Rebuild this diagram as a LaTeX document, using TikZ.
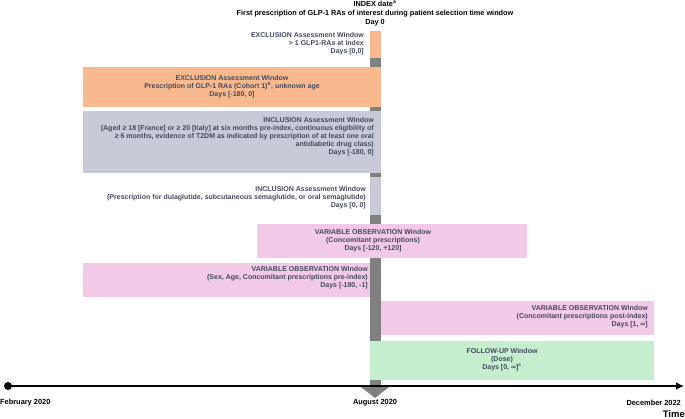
\documentclass[tikz,border=0pt]{standalone}
\usepackage{fontspec}
\setmainfont{Liberation Sans}
\usetikzlibrary{arrows.meta}

\definecolor{exclcol}{HTML}{F9B98E}
\definecolor{inclcol}{HTML}{C9CAD8}
\definecolor{varcol}{HTML}{F2C9E6}
\definecolor{fucol}{HTML}{C5EECF}
\definecolor{barcol}{HTML}{808080}
\definecolor{txtcol}{HTML}{44495E}

\begin{document}
\begin{tikzpicture}[
    x=1pt, y=-1pt,
    win/.style={font=\fontsize{7}{8}\selectfont\bfseries, text=txtcol, inner sep=0pt},
    winr/.style={win, align=right, anchor=east},
    winc/.style={win, align=center},
    head/.style={font=\fontsize{7.3}{9}\selectfont\bfseries, align=center, inner sep=0pt},
    date/.style={font=\fontsize{7.4}{8}\selectfont\bfseries, inner sep=0pt}
]
\useasboundingbox (0,0) rectangle (685,419);

% Index date
\node[head] (index) at (375,13) {INDEX date\textsuperscript{a}\\First prescription of GLP-1 RAs of interest during patient selection time window\\Day 0};

% Day 0 bar
\fill[barcol] (370,31) rectangle (381,387);

% Exclusion, day 0
\fill[exclcol] (370,31) rectangle (381,58);
\node[winr] (excl0) at (364,44) {EXCLUSION Assessment Window\\> 1 GLP1-RAs at index\\Days [0,0]};

% Exclusion, cohort 1
\fill[exclcol] (83,67) rectangle (381,107);
\node[winc] (excl1) at (232,87) {EXCLUSION Assessment Window\\Prescription of GLP-1 RAs (Cohort 1)\textsuperscript{b}, unknown age\\Days [-180, 0]};

% Inclusion, pre-index
\fill[inclcol] (83,111) rectangle (381,173);
\node[winr] (incl1) at (374,137) {INCLUSION Assessment Window\\(Aged ≥ 18 [France] or ≥ 20 [Italy] at six months pre-index, continuous eligibility of\\≥ 6 months, evidence of T2DM as indicated by prescription of at least one oral\\antidiabetic drug class)\\Days [-180, 0]};

% Inclusion, day 0
\fill[inclcol] (370,177) rectangle (381,215);
\node[winr] (incl2) at (366,198) {INCLUSION Assessment Window\\(Prescription for dulaglutide, subcutaneous semaglutide, or oral semaglutide)\\Days [0, 0]};

% Variable observation
\fill[varcol] (257,224) rectangle (527,258);
\node[winc] (var1) at (373,241) {VARIABLE OBSERVATION Window\\(Concomitant prescriptions)\\Days [-120, +120]};

\fill[varcol] (83,263) rectangle (370,297);
\node[winr] (var2) at (368,278) {VARIABLE OBSERVATION Window\\(Sex, Age, Concomitant prescriptions pre-index)\\Days [-180, -1]};

\fill[varcol] (381,301) rectangle (654,335);
\node[winr] (var3) at (648,317) {VARIABLE OBSERVATION Window\\(Concomitant prescriptions post-index)\\Days [1, ∞]};

% Follow-up
\fill[fucol] (370,341) rectangle (654,380);
\node[winc] (fu) at (502,360) {FOLLOW-UP Window\\(Dose)\\Days [0, ∞]\textsuperscript{c}};

% Time axis
\fill[barcol] (361,387) -- (389,387) -- (375,398) -- cycle;
\coordinate (tstart) at (8,386);
\coordinate (tend) at (684,386);
\draw[line width=2.4pt, -{Latex[length=8pt,width=8pt]}] (tstart) -- (tend);
\fill (tstart) circle (4);

\node[date, anchor=west] (feb) at (0,403) {February 2020};
\node[date] (aug) at (375,403) {August 2020};
\node[date, anchor=east] (dec) at (681,403) {December 2022};
\node[font=\fontsize{9.5}{10}\selectfont\bfseries, anchor=east, inner sep=0pt] (time) at (685,414) {Time};

\end{tikzpicture}
\end{document}
